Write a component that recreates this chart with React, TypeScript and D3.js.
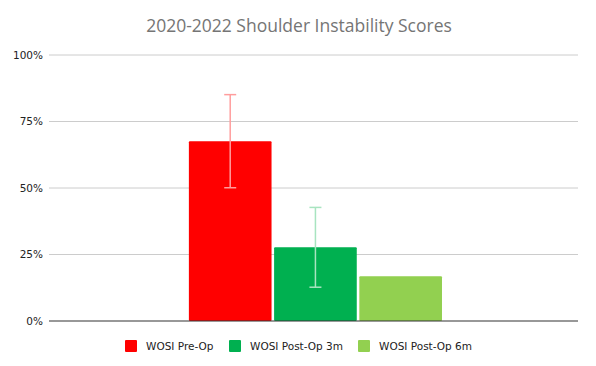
import React from "react";
import * as d3 from "d3";

const WIDTH = 596;
const HEIGHT = 366;

const categories = ["2020-2022"];
const seriesNames = ["WOSI Pre-Op", "WOSI Post-Op 3m", "WOSI Post-Op 6m"];
const seriesValues = [0.676, 0.277, 0.168];
const seriesErrors = [0.175, 0.15, null];
const seriesColors = ["#ff0000", "#00b050", "#92d050"];
const errorColors = ["#ff9d9d", "#a8e4c0", "#c8e8a8"];
const yTicks = [0, 0.25, 0.5, 0.75, 1];

const margin = { top: 55, right: 18, bottom: 45, left: 49 };

export default function App() {
  const innerW = WIDTH - margin.left - margin.right;
  const innerH = HEIGHT - margin.top - margin.bottom;

  const y = d3.scaleLinear().domain([0, 1]).range([innerH, 0]);
  const x0 = d3
    .scaleBand()
    .domain(categories)
    .range([0, innerW])
    .paddingInner(0)
    .paddingOuter(0.545)
    .align(0.507);
  const x1 = d3.scaleBand().domain(seriesNames).range([0, x0.bandwidth()]).paddingInner(0.03);
  const fmt = d3.format(".0%");

  // legend positions
  const legendX = [125, 229, 358];

  return (
    <svg width={WIDTH} height={HEIGHT} style={{ display: "block", position: "absolute", left: 0, top: 0 }}>
      <rect width={WIDTH} height={HEIGHT} fill="#fff" />
      <text
        x={WIDTH / 2 + 1}
        y={32}
        textAnchor="middle"
        fontFamily="'Open Sans', sans-serif"
        fontSize={17.5}
        fill="#757575"
      >
        2020-2022 Shoulder Instability Scores
      </text>
      <g transform={`translate(${margin.left},${margin.top})`}>
        {yTicks.map((t) => (
          <g key={t}>
            {t > 0 && <line x1={0} x2={innerW} y1={y(t)} y2={y(t)} stroke="#cccccc" strokeWidth={1} />}
            <text
              x={-6}
              y={y(t)}
              dy="0.35em"
              textAnchor="end"
              fontFamily="'DejaVu Sans', sans-serif"
              fontSize={10.5}
              fill="#222"
            >
              {fmt(t)}
            </text>
          </g>
        ))}
        {categories.map((c) => (
          <g key={c} transform={`translate(${x0(c)},0)`}>
            {seriesNames.map((s, i) => (
              <rect
                key={s}
                x={x1(s)}
                y={y(seriesValues[i])}
                width={x1.bandwidth()}
                height={innerH - y(seriesValues[i])}
                fill={seriesColors[i]}
                rx={1}
              />
            ))}
            {seriesNames.map((s, i) => {
              const e = seriesErrors[i];
              if (e == null) return null;
              const cx = (x1(s) || 0) + x1.bandwidth() / 2;
              const yt = y(seriesValues[i] + e);
              const yb = y(seriesValues[i] - e);
              return (
                <g key={s} stroke={errorColors[i]} strokeWidth={1.5}>
                  <line x1={cx} x2={cx} y1={yt} y2={yb} />
                  <line x1={cx - 6} x2={cx + 6} y1={yt} y2={yt} />
                  <line x1={cx - 6} x2={cx + 6} y1={yb} y2={yb} />
                </g>
              );
            })}
          </g>
        ))}
        <line x1={0} x2={innerW} y1={innerH} y2={innerH} stroke="#333" strokeWidth={1.2} />
      </g>
      {seriesNames.map((s, i) => (
        <g key={s} transform={`translate(${legendX[i]},${346})`}>
          <rect x={0} y={-6} width={12} height={12} fill={seriesColors[i]} rx={1} />
          <text
            x={21}
            y={0}
            dy="0.35em"
            fontFamily="'DejaVu Sans', sans-serif"
            fontSize={10.5}
            fill="#222"
          >
            {s}
          </text>
        </g>
      ))}
    </svg>
  );
}
